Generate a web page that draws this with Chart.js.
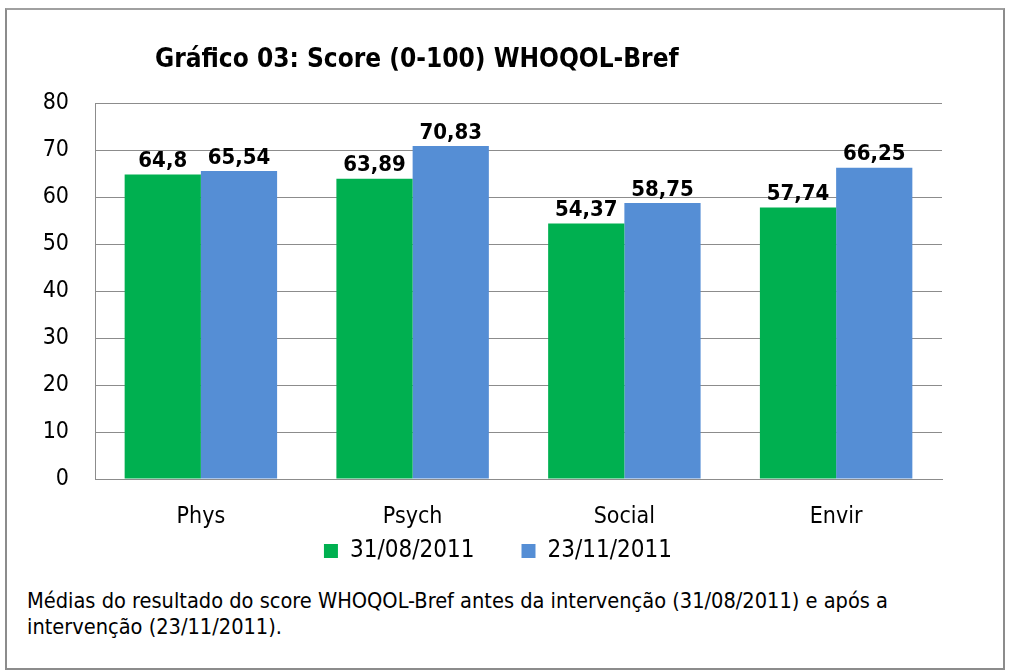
<!DOCTYPE html>
<html>
<head>
<meta charset="utf-8">
<script src="https://cdn.jsdelivr.net/npm/chart.js@4"></script>
<style>
  body { margin: 0; background: #fff; }
  #frame {
    position: absolute; left: 5px; top: 8px; width: 996px; height: 658px;
    border: 2px solid #8c8c8c; border-top-color: #a0a0a0;
  }
  #wrap { position: absolute; left: 0; top: 0; width: 1009px; height: 573px; }
  #caption {
    position: absolute; left: 27px; top: 588px; width: 900px;
    font-family: 'DejaVu Sans Condensed', sans-serif;
    font-size: 21.6px; line-height: 26px; color: #000;
  }
</style>
</head>
<body>
<div id="frame"></div>
<div id="wrap"><canvas id="chart" width="1009" height="573"></canvas></div>
<div id="caption">Médias do resultado do score WHOQOL-Bref antes da intervenção (31/08/2011) e após a intervenção (23/11/2011).</div>
<script>
const categories = ['Phys', 'Psych', 'Social', 'Envir'];
const seriesNames = ['31/08/2011', '23/11/2011'];
const before = [64.8, 63.89, 54.37, 57.74];
const after = [65.54, 70.83, 58.75, 66.25];
const yTicks = [0, 10, 20, 30, 40, 50, 60, 70, 80];
const chartTitle = 'Gráfico 03: Score (0-100) WHOQOL-Bref';

const fontFamily = "'DejaVu Sans Condensed', sans-serif";

// title sits left of centre in the original, so draw it ourselves
const titleText = {
  id: 'titleText',
  afterDraw(chart) {
    const ctx = chart.ctx;
    ctx.save();
    ctx.font = `bold 26px ${fontFamily}`;
    ctx.fillStyle = '#000';
    ctx.textAlign = 'left';
    ctx.textBaseline = 'middle';
    ctx.fillText(chartTitle, 155, 60);
    ctx.restore();
  }
};

const valueLabels = {
  id: 'valueLabels',
  afterDatasetsDraw(chart) {
    const ctx = chart.ctx;
    ctx.save();
    ctx.font = `bold 22px ${fontFamily}`;
    ctx.fillStyle = '#000';
    ctx.textAlign = 'center';
    ctx.textBaseline = 'bottom';
    chart.data.datasets.forEach((ds, i) => {
      chart.getDatasetMeta(i).data.forEach((bar, j) => {
        ctx.fillText(String(ds.data[j]).replace('.', ','), bar.x, bar.y - 2);
      });
    });
    ctx.restore();
  }
};

// legend gap is wider than its vertical padding, pad the text instead
const gap = '\u00a0'.repeat(6);
const legendLabels = (chart) =>
  Chart.defaults.plugins.legend.labels.generateLabels(chart).map((item) => ({
    ...item,
    text: item.text + gap
  }));

new Chart(document.getElementById('chart'), {
  type: 'bar',
  data: {
    labels: categories,
    datasets: [
      { label: seriesNames[0], data: before, backgroundColor: '#00B050' },
      { label: seriesNames[1], data: after, backgroundColor: '#558ED5' }
    ]
  },
  options: {
    responsive: false,
    animation: false,
    layout: { padding: { top: 103, right: 67, left: 0, bottom: 0 } },
    datasets: { bar: { categoryPercentage: 0.72, barPercentage: 1 } },
    scales: {
      x: {
        grid: { display: false, drawTicks: false },
        border: { color: '#8c8c8c' },
        afterFit: (scale) => { scale.height = 54; },
        ticks: { color: '#000', font: { family: fontFamily, size: 23 }, padding: 24 }
      },
      y: {
        min: 0,
        max: 80,
        afterBuildTicks: (scale) => { scale.ticks = yTicks.map((v) => ({ value: v })); },
        afterFit: (scale) => { scale.width = 95; },
        grid: { color: '#8c8c8c', drawTicks: false },
        border: { color: '#8c8c8c' },
        ticks: { color: '#000', font: { family: fontFamily, size: 23 }, padding: 26 }
      }
    },
    plugins: {
      title: { display: false },
      legend: {
        position: 'bottom',
        fullSize: false,
        labels: {
          color: '#000',
          font: { family: fontFamily, size: 24 },
          boxWidth: 14,
          boxHeight: 14,
          padding: 6,
          generateLabels: legendLabels
        }
      },
      tooltip: { enabled: false }
    }
  },
  plugins: [valueLabels, titleText]
});
</script>
</body>
</html>
